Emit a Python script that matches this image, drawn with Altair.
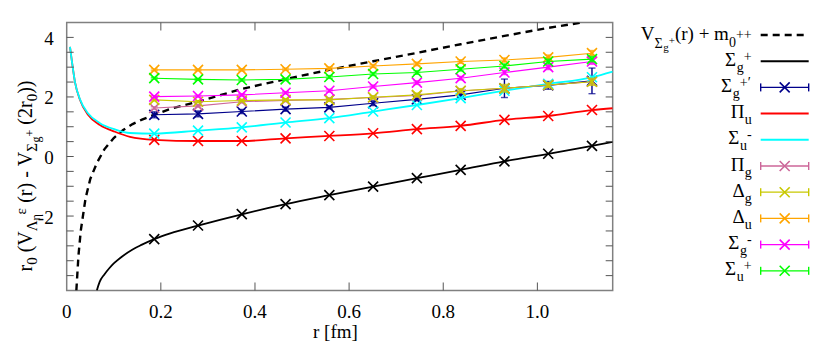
import altair as alt
import pandas as pd

FONT = "Liberation Serif"

# ---------------- data ----------------
r_lat = [0.186, 0.279, 0.372, 0.465, 0.558, 0.651, 0.744, 0.837, 0.930, 1.023, 1.116]

v_sigma_g_plus = [-2.775, -2.319, -1.936, -1.601, -1.299, -1.010, -0.728, -0.450, -0.164, 0.094, 0.356]
v_pi_u = [0.56, 0.52, 0.52, 0.61, 0.69, 0.78, 0.92, 1.03, 1.23, 1.36, 1.56]
v_sigma_u_minus = [0.77, 0.87, 0.98, 1.14, 1.29, 1.51, 1.73, 1.96, 2.21, 2.44, 2.66]
v_sigma_g_plus_prime = [1.40, 1.43, 1.51, 1.59, 1.65, 1.79, 1.92, 2.07, 2.29, 2.39, 2.54]
v_pi_g = [1.63, 1.70, 1.84, 1.88, 1.92, 1.98, 2.05, 2.20, 2.29, 2.40, 2.51]
v_delta_g = [1.90, 1.84, 1.88, 1.90, 1.90, 1.99, 2.07, 2.21, 2.29, 2.40, 2.51]
v_delta_u = [2.91, 2.91, 2.91, 2.93, 2.96, 3.04, 3.11, 3.19, 3.24, 3.33, 3.47]
v_sigma_g_minus = [2.01, 2.03, 2.07, 2.14, 2.21, 2.35, 2.48, 2.63, 2.82, 3.00, 3.19]
v_sigma_u_plus = [2.63, 2.59, 2.57, 2.59, 2.67, 2.77, 2.82, 2.93, 3.04, 3.19, 3.27]

e_sigma_g_plus_prime = [0.10, 0.10, 0.07, 0.07, 0.05, 0.08, 0.05, 0.05, 0.31, 0.13, 0.43]
e_pi_g = [0.04, 0.04, 0.04, 0.04, 0.05, 0.05, 0.06, 0.06, 0.08, 0.08, 0.10]
e_delta_g = [0.03, 0.03, 0.04, 0.04, 0.05, 0.05, 0.06, 0.07, 0.13, 0.08, 0.12]
e_delta_u = [0.03, 0.03, 0.04, 0.04, 0.05, 0.05, 0.06, 0.06, 0.07, 0.08, 0.09]
e_sigma_g_minus = [0.03, 0.03, 0.04, 0.04, 0.05, 0.05, 0.06, 0.06, 0.07, 0.08, 0.09]
e_sigma_u_plus = [0.03, 0.03, 0.04, 0.04, 0.05, 0.05, 0.06, 0.06, 0.07, 0.08, 0.09]

# continuous curves
r_black_curve = [0.064, 0.07, 0.08, 0.09, 0.10, 0.12, 0.14, 0.16, 0.186, 0.22, 0.279, 0.372,
                 0.465, 0.558, 0.651, 0.744, 0.837, 0.93, 1.023, 1.116, 1.16]
v_black_curve = [-4.5, -4.21, -3.96, -3.76, -3.59, -3.33, -3.12, -2.96, -2.775, -2.58, -2.32, -1.94,
                 -1.60, -1.30, -1.01, -0.73, -0.45, -0.16, 0.09, 0.36, 0.49]

r_dash_curve = [0.0205, 0.025, 0.03, 0.04, 0.05, 0.064, 0.08, 0.10, 0.12, 0.14, 0.16, 0.186, 0.22,
                0.279, 0.372, 0.465, 0.558, 0.651, 0.744, 0.837, 0.93, 1.023, 1.095]
v_dash_curve = [-4.5, -3.32, -2.48, -1.41, -0.76, -0.22, 0.24, 0.62, 0.89, 1.09, 1.24, 1.40, 1.60,
                1.84, 2.27, 2.60, 2.91, 3.20, 3.48, 3.77, 4.05, 4.32, 4.5]

r_exc_curve = [0.007, 0.0113, 0.0176, 0.0283, 0.0452, 0.0707, 0.1026, 0.1345, 0.186, 0.279, 0.372,
               0.465, 0.558, 0.651, 0.744, 0.837, 0.93, 1.023, 1.116, 1.16]
v_pi_u_curve = [3.68, 3.17, 2.5, 1.9, 1.40, 1.06, 0.83, 0.66, 0.56, 0.52, 0.52,
                0.61, 0.69, 0.78, 0.92, 1.03, 1.23, 1.36, 1.56, 1.62]
v_sigma_u_minus_curve = [3.68, 3.17, 2.5, 1.92, 1.45, 1.12, 0.91, 0.79, 0.77, 0.87, 0.98,
                         1.14, 1.29, 1.51, 1.73, 1.96, 2.21, 2.44, 2.66, 2.85]

x_tick_values = [0.2, 0.4, 0.6, 0.8, 1.0]
x_label_values = [0.0, 0.2, 0.4, 0.6, 0.8, 1.0]
x_label_text = ["0", "0.2", "0.4", "0.6", "0.8", "1.0"]
y_label_values = [-2, 0, 2, 4]
y_label_text = ["-2", "0", "2", "4"]
y_tick_values = [-4.0, -3.5, -3.0, -2.5, -2.0, -1.5, -1.0, -0.5, 0.0, 0.5, 1.0, 1.5,
                 2.0, 2.5, 3.0, 3.5, 4.0]
x_title = "r [fm]"

C_BLACK, C_NAVY, C_RED, C_CYAN = "#000000", "#00008b", "#ff0000", "#00ffff"
C_PINK, C_YEL, C_ORA, C_MAG, C_GRN = "#cc6699", "#c8c800", "#ffa500", "#ff00ff", "#00ff00"

# legend: (segments, kind, colour)
legend_entries = [
    ([("V", "sub0"), ("Σ", "s1"), ("g", "ss1"), ("+", "ssup1"), ("(r) + m", "n"), ("0", "sub1"), ("++", "sup1")], "dash", C_BLACK),
    ([("Σ", "n"), ("g", "sub"), ("+", "sup")], "line", C_BLACK),
    ([("Σ", "n"), ("g", "sub"), ("+′", "sup")], "err", C_NAVY),
    ([("Π", "n"), ("u", "sub")], "line", C_RED),
    ([("Σ", "n"), ("u", "sub"), ("-", "sup")], "line", C_CYAN),
    ([("Π", "n"), ("g", "sub")], "err", C_PINK),
    ([("Δ", "n"), ("g", "sub")], "err", C_YEL),
    ([("Δ", "n"), ("u", "sub")], "err", C_ORA),
    ([("Σ", "n"), ("g", "sub"), ("-", "sup")], "err", C_MAG),
    ([("Σ", "n"), ("u", "sub"), ("+", "sup")], "err", C_GRN),
]

ytitle_segs = [("r", "tn"), ("0", "tsub"), (" (", "tn"), ("V", "tn"), ("Λ", "tsub"), ("η", "tss"),
               ("ε", "tsup"), (" (r)", "tn"), (" - ", "tn"), ("V", "tn"), ("Σ", "tsub"), ("g", "tss"),
               ("+", "tssup"), (" (2r", "tn"), ("0", "tsub"), ("))", "tn")]

# ---------------- text layout helpers ----------------
CW = {'V': 0.722, 'Σ': 0.62, 'Π': 0.74, 'Δ': 0.64, 'Λ': 0.72, 'η': 0.5, 'ε': 0.44, 'g': 0.5,
      'u': 0.5, '+': 0.564, '-': 0.333, '′': 0.28, '(': 0.333, ')': 0.333, 'r': 0.333,
      ' ': 0.25, 'm': 0.778, '0': 0.5, '2': 0.5}
STY = {'n': (19, 0), 'sub': (14, 6), 'sup': (14, -5), 'ss': (11, 10), 'ssup': (11, 3),
       'sub0': (19, 0), 's1': (14, 8), 'ss1': (11, 11), 'ssup1': (11, 4), 'sub1': (14, 7), 'sup1': (14, -1),
       'tn': (20, 0), 'tsub': (15, 5), 'tsup': (15, -6), 'tss': (12, 8), 'tssup': (12, 2)}


def seg_w(t, fs):
    return sum(CW.get(ch, 0.5) for ch in t) * fs


def layout(segs, start, along_sign=1):
    out = []
    pos = start
    for t, k in segs:
        fs, sh = STY[k]
        lead = len(t) - len(t.lstrip(' '))
        body = t.strip(' ')
        out.append((body, pos + along_sign * lead * CW[' '] * fs, sh, fs))
        pos += along_sign * seg_w(t, fs)
    return out


W, H = 546, 268
LEG_Y0, LEG_DY = 12.5, 26.2
LEG_TEXT_RIGHT, LEG_X1, LEG_X2 = 685, 694, 742

leg_text_rows, leg_line_rows, leg_cap_rows, leg_pt_rows = [], [], [], []
for i, (segs, kind, col) in enumerate(legend_entries):
    yrow = LEG_Y0 + LEG_DY * i
    total = sum(seg_w(t, STY[k][0]) for t, k in segs)
    for body, px, sh, fs in layout(segs, LEG_TEXT_RIGHT - total):
        leg_text_rows.append(dict(t=body, px=px, py=yrow + 4.5 + sh, fs=fs))
    leg_line_rows.append(dict(x1=LEG_X1, x2=LEG_X2, y=yrow, c=col, kind=kind,
                              w=1.3 if kind == "err" else 2.0))
    if kind == "err":
        for xc in (LEG_X1, LEG_X2):
            leg_cap_rows.append(dict(x=xc, y1=yrow - 4, y2=yrow + 4, c=col))
        leg_pt_rows.append(dict(x=(LEG_X1 + LEG_X2) / 2, y=yrow, c=col))

# x-axis title as a text row (centred under the plot)
leg_text_rows.append(dict(t=x_title, px=W / 2 - seg_w(x_title, 19) / 2 + 0.5, py=H + 48, fs=19))

title_rows = []
TITLE_BASE_X, TITLE_START_Y = -35, 249
for body, py, sh, fs in layout(ytitle_segs, TITLE_START_Y, along_sign=-1):
    title_rows.append(dict(t=body, px=TITLE_BASE_X + sh, py=py, fs=fs))

# ---------------- chart ----------------
xscale = alt.Scale(domain=[0, 1.16], nice=False, zero=False)
yscale = alt.Scale(domain=[-4.5, 4.5], nice=False, zero=False)


def X(f):
    return alt.X(f, type="quantitative", scale=xscale, axis=None)


def Y(f):
    return alt.Y(f, type="quantitative", scale=yscale, axis=None)


CROSS = "M-1,-1L1,1M-1,1L1,-1"

layers = []

black_df = pd.DataFrame({"r": r_black_curve, "v": v_black_curve})
dash_df = pd.DataFrame({"r": r_dash_curve, "v": v_dash_curve})
pu_df = pd.DataFrame({"r": r_exc_curve, "v": v_pi_u_curve})
sum_df = pd.DataFrame({"r": r_exc_curve, "v": v_sigma_u_minus_curve})

layers.append(alt.Chart(dash_df).mark_line(strokeDash=[7, 5], strokeWidth=2.4, color=C_BLACK, clip=True)
              .encode(x=X("r"), y=Y("v")))
layers.append(alt.Chart(black_df).mark_line(strokeWidth=1.8, color=C_BLACK, clip=True, interpolate="monotone")
              .encode(x=X("r"), y=Y("v")))

series = [
    ("sgp", v_sigma_g_plus, None, C_BLACK),
    ("sgpp", v_sigma_g_plus_prime, e_sigma_g_plus_prime, C_NAVY),
    ("pu", v_pi_u, None, C_RED),
    ("sum", v_sigma_u_minus, None, C_CYAN),
    ("pg", v_pi_g, e_pi_g, C_PINK),
    ("dg", v_delta_g, e_delta_g, C_YEL),
    ("du", v_delta_u, e_delta_u, C_ORA),
    ("sgm", v_sigma_g_minus, e_sigma_g_minus, C_MAG),
    ("sup", v_sigma_u_plus, e_sigma_u_plus, C_GRN),
]

for name, vals, errs, col in series:
    if name == "pu":
        layers.append(alt.Chart(pu_df).mark_line(strokeWidth=1.8, color=C_RED, clip=True, interpolate="monotone")
                      .encode(x=X("r"), y=Y("v")))
    if name == "sum":
        layers.append(alt.Chart(sum_df).mark_line(strokeWidth=1.8, color=C_CYAN, clip=True, interpolate="monotone")
                      .encode(x=X("r"), y=Y("v")))
    df = pd.DataFrame({"r": r_lat, "v": vals})
    if errs is not None:
        df["lo"] = [v - e for v, e in zip(vals, errs)]
        df["hi"] = [v + e for v, e in zip(vals, errs)]
        layers.append(alt.Chart(df).mark_line(strokeWidth=1.1, color=col).encode(x=X("r"), y=Y("v")))
        layers.append(alt.Chart(df).mark_errorbar(ticks=True, size=7, thickness=1.4, color=col)
                      .encode(x=X("r"), y=Y("lo"), y2="hi:Q"))
    layers.append(alt.Chart(df).mark_point(shape=CROSS, size=100, strokeWidth=1.6, filled=False,
                                           opacity=1, color=col).encode(x=X("r"), y=Y("v")))

# inward ticks on all four sides
xt_df = pd.DataFrame({"t": x_tick_values})
yt_df = pd.DataFrame({"t": y_tick_values})
TICK_C = "#555555"
layers.append(alt.Chart(xt_df).mark_rule(color=TICK_C, strokeWidth=1)
              .encode(x=X("t"), y=alt.value(H), y2=alt.value(H - 8)))
layers.append(alt.Chart(xt_df).mark_rule(color=TICK_C, strokeWidth=1)
              .encode(x=X("t"), y=alt.value(0), y2=alt.value(8)))
layers.append(alt.Chart(yt_df).mark_rule(color=TICK_C, strokeWidth=1)
              .encode(y=Y("t"), x=alt.value(0), x2=alt.value(7)))
layers.append(alt.Chart(yt_df).mark_rule(color=TICK_C, strokeWidth=1)
              .encode(y=Y("t"), x=alt.value(W), x2=alt.value(W - 7)))

# tick labels placed through the data scales
xl_df = pd.DataFrame({"v": x_label_values, "t": x_label_text})
yl_df = pd.DataFrame({"v": y_label_values, "t": y_label_text})
layers.append(alt.Chart(xl_df).mark_text(font=FONT, fontSize=19, align="center", baseline="alphabetic", color="#000")
              .encode(x=X("v"), y=alt.value(H + 28), text="t:N"))
layers.append(alt.Chart(yl_df).mark_text(font=FONT, fontSize=19, align="right", baseline="middle", color="#000", dy=1.5)
              .encode(y=Y("v"), x=alt.value(-13), text="t:N"))

# legend symbols
PX = lambda f: alt.X(f, type="quantitative", scale=None)
PY = lambda f: alt.Y(f, type="quantitative", scale=None)
ll = pd.DataFrame(leg_line_rows)
layers.append(alt.Chart(ll[ll.kind == "dash"]).mark_rule(strokeDash=[7, 5], strokeWidth=2.4)
              .encode(x=PX("x1"), x2="x2:Q", y=PY("y"), color=alt.Color("c:N", scale=None)))
layers.append(alt.Chart(ll[ll.kind != "dash"]).mark_rule()
              .encode(x=PX("x1"), x2="x2:Q", y=PY("y"), color=alt.Color("c:N", scale=None),
                      strokeWidth=alt.StrokeWidth("w:Q", scale=None)))
layers.append(alt.Chart(pd.DataFrame(leg_cap_rows)).mark_rule(strokeWidth=1.4)
              .encode(x=PX("x"), y=PY("y1"), y2="y2:Q", color=alt.Color("c:N", scale=None)))
layers.append(alt.Chart(pd.DataFrame(leg_pt_rows)).mark_point(shape=CROSS, size=100, strokeWidth=1.6,
                                                               filled=False, opacity=1)
              .encode(x=PX("x"), y=PY("y"), color=alt.Color("c:N", scale=None)))

# legend text, x title and y-axis title (with sub/superscripts)
layers.append(alt.Chart(pd.DataFrame(leg_text_rows)).mark_text(font=FONT, align="left", baseline="alphabetic", color="#000")
              .encode(x=PX("px"), y=PY("py"), text="t:N", size=alt.Size("fs:Q", scale=None)))
layers.append(alt.Chart(pd.DataFrame(title_rows)).mark_text(font=FONT, align="left", baseline="alphabetic",
                                                            angle=270, color="#000")
              .encode(x=PX("px"), y=PY("py"), text="t:N", size=alt.Size("fs:Q", scale=None)))

chart = alt.layer(*layers).properties(
    width=W, height=H,
    autosize=alt.AutoSizeParams(type="none"),
    padding={"left": 58.7, "top": 14.5, "right": 209, "bottom": 57},
).configure_view(stroke="#808080", strokeWidth=1.5)

chart.save("out.html", embed_options={"renderer": "svg", "actions": False})
